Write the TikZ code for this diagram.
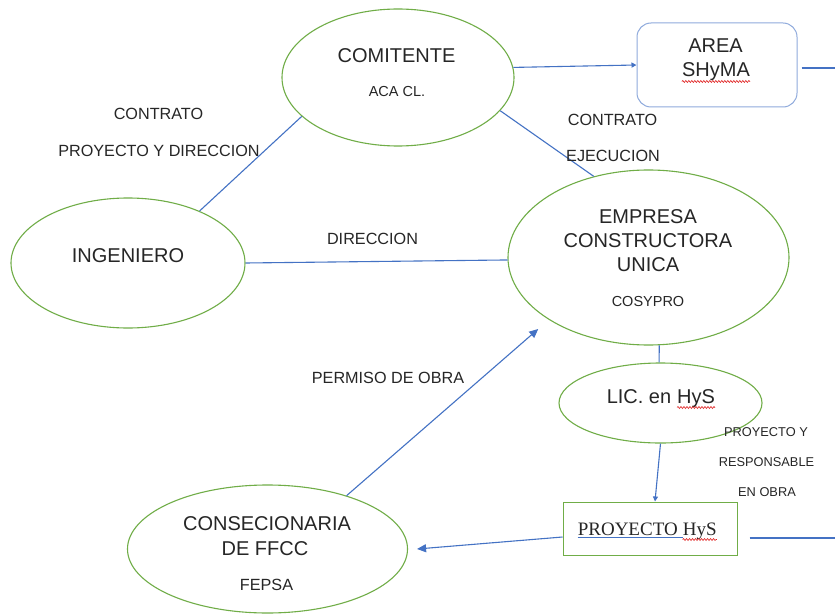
\documentclass[tikz,border=0pt]{standalone}
\usepackage{fontspec}
\setmainfont{Liberation Sans}
\newfontfamily\serifx{Liberation Serif}
\usetikzlibrary{shapes.geometric,arrows.meta,decorations.pathmorphing}
\definecolor{ogreen}{HTML}{70AD47}
\definecolor{oblue}{HTML}{4472C4}
\definecolor{lblue}{HTML}{8FAADC}
\definecolor{txt}{HTML}{262626}
\definecolor{wavered}{HTML}{E02020}
\begin{document}
\begin{tikzpicture}[x=1pt,y=-1pt,
  ell/.style={ellipse, draw=ogreen, line width=1.1pt, inner sep=0pt, fill=white},
  conn/.style={draw=oblue, line width=1.1pt},
  tipbig/.style={-{Triangle[length=9pt,width=8pt]}},
  tipsmall/.style={-{Triangle[length=5pt,width=5pt]}},
  big/.style={font=\fontsize{20}{24}\selectfont, text=txt, anchor=base, inner sep=0pt},
  sub/.style={font=\fontsize{14.5}{17}\selectfont, text=txt, anchor=base, inner sep=0pt},
  lab/.style={font=\fontsize{16.2}{19}\selectfont, text=txt, anchor=base, inner sep=0pt},
  tiny/.style={font=\fontsize{12.8}{15}\selectfont, text=txt, anchor=base, inner sep=0pt},
  serifbox/.style={font=\serifx\fontsize{19}{23}\selectfont, text=txt, anchor=base west, inner sep=0pt},
  squiggle/.style={draw=wavered, line width=0.6pt, decorate, decoration={snake, amplitude=1pt, segment length=3pt}},
  blueline/.style={draw=oblue, line width=1.2pt}]
\useasboundingbox (0,0) rectangle (835,615);
\fill[white] (0,0) rectangle (835,615);

% shapes
\node[ell, minimum width=232pt, minimum height=137pt] (com) at (398,77.5) {};
\node[ell, minimum width=234pt, minimum height=130pt] (ing) at (128,263) {};
\node[ell, minimum width=281pt, minimum height=175pt] (emp) at (648.5,257.5) {};
\node[ell, minimum width=203pt, minimum height=80pt] (lic) at (660.5,403) {};
\node[ell, minimum width=280pt, minimum height=128pt] (cons) at (267.5,549) {};
\node[draw=lblue, line width=1pt, rounded corners=14pt, minimum width=160pt, minimum height=84pt, inner sep=0pt] (area) at (717,65) {};
\node[draw=ogreen, line width=1pt, minimum width=174pt, minimum height=53pt, inner sep=0pt] (proy) at (650,528.5) {};
\coordinate (areaout) at (835,68);
\coordinate (proyout) at (835,538);

% connectors
\draw[conn] (ing.36) -- (com.202);
\draw[conn] (ing.east) -- (emp.181);
\draw[conn, tipsmall] (com.5) -- (area.west);
\draw[conn, shorten <=4pt] ([yshift=-3pt]area.east) -- (areaout);
\draw[conn] (com.342) -- (emp.124);
\draw[conn] (emp.277) -- (lic.92);
\draw[conn, tipsmall] (lic.south) -- ([xshift=5pt]proy.north);
\draw[conn, tipbig] ([yshift=-8.5pt]proy.west) -- ([xshift=9pt]cons.east);
\draw[conn, shorten <=12pt] ([yshift=-9.5pt]proy.east) -- (proyout);
\draw[conn, tipbig, shorten >=14pt] (cons.34) -- (emp.212);

% texts in shapes
\node[big] (tcom) at (396.5,63) {COMITENTE};
\node[sub] (taca) at (397,97) {ACA CL.};
\node[big] (ting) at (128,262) {INGENIERO};
\node[big] (temp1) at (648,223) {EMPRESA};
\node[big] (temp2) at (648,247) {CONSTRUCTORA};
\node[big] (temp3) at (648,271) {UNICA};
\node[sub] (temp4) at (648,306) {COSYPRO};
\node[big, anchor=base east] (tlic1) at (677,403) {LIC. en\kern5.56pt};
\node[big, anchor=base west] (tlic2) at (677,403) {HyS};
\node[big] (tarea1) at (715.5,53) {AREA};
\node[big] (tarea2) at (716,77) {SHyMA};
\node[serifbox] (tproy1) at (577.6,535) {PROYECTO};
\node[serifbox] (tproy2) at (682.6,535) {HyS};
\node[big] (tcons1) at (267,530) {CONSECIONARIA};
\node[big] (tcons2) at (265,555) {DE FFCC};
\node[lab] (tcons3) at (266.5,590) {FEPSA};

% spelling marks
\draw[squiggle] ([yshift=-4.5pt]tlic2.base west) -- ([yshift=-4.5pt]tlic2.base east);
\draw[squiggle] ([yshift=-4.5pt]tarea2.base west) -- ([yshift=-4.5pt]tarea2.base east);
\draw[squiggle] ([yshift=-4.5pt]tproy2.base west) -- ([yshift=-4.5pt]tproy2.base east);
\draw[blueline] ([yshift=-2.5pt]tproy1.base west) -- ([yshift=-2.5pt,xshift=5pt]tproy1.base east);

% edge labels
\node[lab] (l1) at (158.5,120) {CONTRATO};
\node[lab] (l2) at (159,157) {PROYECTO Y DIRECCION};
\node[lab] (l3) at (372.5,244) {DIRECCION};
\node[lab] (l4) at (612.5,125) {CONTRATO};
\node[lab] (l5) at (613,161) {EJECUCION};
\node[lab] (l6) at (388,383) {PERMISO DE OBRA};
\node[tiny] (l7) at (766,436) {PROYECTO Y};
\node[tiny] (l8) at (766.5,466) {RESPONSABLE};
\node[tiny] (l9) at (767,496) {EN OBRA};
\end{tikzpicture}
\end{document}
